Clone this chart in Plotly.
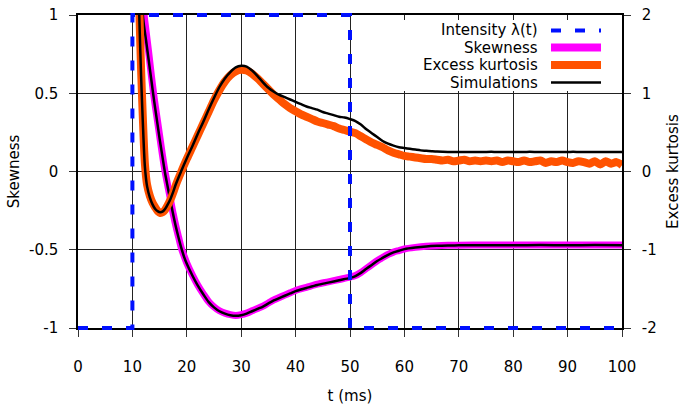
import plotly.graph_objects as go

# ---------------- data ----------------
t_lambda = [0, 10, 10, 50, 50, 100]
lam = [-1, -1, 1, 1, -1, -1]

t_skew = [11.5, 12, 12.5, 13, 13.5, 14, 14.5, 15, 15.5, 16, 16.5, 17, 17.5, 18, 18.5, 19, 19.5, 20,
          21, 22, 23, 24, 25, 26, 27, 28, 29, 30, 31, 32, 33, 34, 35, 36, 37, 38, 39, 40,
          42, 44, 46, 48, 50, 51, 52, 53, 54, 55, 56, 57, 58, 59, 60,
          62, 64, 66, 68, 70, 75, 80, 85, 90, 95, 100]
skew_theory = [1.35, 1.05, 0.90, 0.76, 0.61, 0.47, 0.35, 0.23, 0.11, 0.00, -0.09, -0.18, -0.27, -0.35, -0.42, -0.49, -0.54, -0.585,
               -0.66, -0.725, -0.78, -0.83, -0.865, -0.89, -0.905, -0.915, -0.92, -0.915, -0.905, -0.89, -0.875, -0.86, -0.84, -0.82, -0.805, -0.79, -0.775, -0.76,
               -0.74, -0.72, -0.705, -0.69, -0.675, -0.665, -0.645, -0.62, -0.595, -0.57, -0.55, -0.53, -0.515, -0.505, -0.495,
               -0.485, -0.478, -0.474, -0.472, -0.471, -0.47, -0.47, -0.47, -0.47, -0.47, -0.47]
skew_sim = [1.25, 0.97, 0.84, 0.71, 0.58, 0.45, 0.33, 0.21, 0.10, -0.01, -0.10, -0.19, -0.275, -0.355, -0.425, -0.49, -0.545, -0.59,
            -0.663, -0.728, -0.783, -0.833, -0.868, -0.893, -0.908, -0.918, -0.922, -0.918, -0.908, -0.893, -0.878, -0.863, -0.843, -0.824, -0.809, -0.794, -0.779, -0.764,
            -0.744, -0.725, -0.71, -0.695, -0.68, -0.668, -0.648, -0.622, -0.597, -0.572, -0.552, -0.532, -0.517, -0.506, -0.496,
            -0.486, -0.479, -0.475, -0.473, -0.472, -0.471, -0.471, -0.47, -0.471, -0.47, -0.471]

t_kurt = [11.0, 11.3, 11.6, 11.9, 12.3, 12.7, 13.2, 13.7, 14.2, 14.7, 15.1, 15.6, 16, 16.5, 17, 17.5,
          18, 19, 20, 21, 22, 23, 24, 25, 26, 27, 28, 29, 30, 31, 32, 33, 34, 35, 36, 37, 38, 39,
          40, 41, 42, 43, 44, 45, 46, 47, 48, 49, 50, 51, 52, 53, 54, 55, 56, 57, 58, 59,
          60, 61, 62, 63, 64, 65, 66, 67, 68, 69, 70, 71, 72, 73, 74, 75, 76, 77, 78, 79,
          80, 81, 82, 83, 84, 85, 86, 87, 88, 89, 90, 91, 92, 93, 94, 95, 96, 97, 98, 99, 100]
kurt_theory = [2.7, 2.0, 1.3, 0.72, 0.10, -0.17, -0.31, -0.40, -0.46, -0.51, -0.53, -0.52, -0.49, -0.43, -0.36, -0.27,
               -0.17, 0.00, 0.16, 0.31, 0.46, 0.61, 0.76, 0.91, 1.04, 1.15, 1.23, 1.28, 1.30, 1.29, 1.25, 1.19, 1.12, 1.05, 0.98, 0.92, 0.86, 0.81,
               0.77, 0.73, 0.70, 0.67, 0.64, 0.62, 0.60, 0.58, 0.55, 0.53, 0.51, 0.49, 0.45, 0.41, 0.37, 0.34, 0.31, 0.27, 0.24, 0.22,
               0.20, 0.19, 0.18, 0.17, 0.16, 0.16, 0.15, 0.14, 0.15, 0.13, 0.14, 0.15, 0.13, 0.14, 0.13, 0.14, 0.13, 0.14, 0.12, 0.14,
               0.13, 0.12, 0.14, 0.12, 0.13, 0.14, 0.11, 0.13, 0.12, 0.14, 0.12, 0.11, 0.13, 0.12, 0.10, 0.13, 0.09, 0.13, 0.10, 0.12, 0.08]
kurt_sim = [2.6, 1.9, 1.22, 0.66, 0.06, -0.19, -0.33, -0.42, -0.48, -0.51, -0.52, -0.51, -0.48, -0.42, -0.35, -0.26,
            -0.16, 0.01, 0.17, 0.32, 0.48, 0.63, 0.79, 0.94, 1.08, 1.19, 1.27, 1.33, 1.35, 1.34, 1.29, 1.22, 1.14, 1.07, 1.02, 0.98, 0.95, 0.92,
            0.89, 0.86, 0.83, 0.81, 0.79, 0.76, 0.74, 0.72, 0.70, 0.69, 0.67, 0.645, 0.60, 0.54, 0.49, 0.44, 0.39, 0.355, 0.33, 0.31,
            0.30, 0.29, 0.28, 0.27, 0.265, 0.26, 0.255, 0.252, 0.25, 0.25, 0.248, 0.25, 0.249, 0.25, 0.248, 0.25, 0.251, 0.249, 0.25, 0.248,
            0.25, 0.25, 0.249, 0.251, 0.25, 0.248, 0.25, 0.25, 0.249, 0.25, 0.25, 0.251, 0.25, 0.249, 0.25, 0.25, 0.249, 0.25, 0.25, 0.249, 0.25]

x_ticks = [0, 10, 20, 30, 40, 50, 60, 70, 80, 90, 100]
x_ticktext = ["0", "10", "20", "30", "40", "50", "60", "70", "80", "90", "100"]
y_ticks = [-1, -0.5, 0, 0.5, 1]
y_ticktext = ["-1", "-0.5", "0", "0.5", "1"]
y2_ticks = [-2, -1, 0, 1, 2]
y2_ticktext = ["-2", "-1", "0", "1", "2"]

legend_labels = ["Intensity λ(t)", "Skewness", "Excess kurtosis", "Simulations"]

# ---------------- styles / layout ----------------
W, H = 685, 405
ML, MR, MT, MB = 78, 63, 10, 72
PLOT_TOP, PLOT_BOT = 15, 328  # pixel rows of +1 / -1
area_h = H - MT - MB

FONT = "DejaVu Sans"
FS = 15
BLUE = "#0010ff"
MAGENTA = "#ff00ff"
ORANGE = "#ff5200"
DASH = "10px,14px"
SMOOTH = 0.8


def px_x(px):
    return (px - ML) / (W - ML - MR)


def px_y(py):
    return (H - MB - py) / area_h


ydom = [px_y(PLOT_BOT), px_y(PLOT_TOP)]
ppu = (PLOT_BOT - PLOT_TOP) / 2.0
pad_lo = (H - MB - PLOT_BOT) / ppu
pad_hi = (PLOT_TOP - MT) / ppu

fig = go.Figure()

fig.add_trace(go.Scatter(x=t_skew, y=skew_theory, mode="lines", name=legend_labels[1],
                         line=dict(color=MAGENTA, width=7, shape="spline", smoothing=SMOOTH),
                         xaxis="x", yaxis="y"))
fig.add_trace(go.Scatter(x=t_kurt, y=kurt_theory, mode="lines", name=legend_labels[2],
                         line=dict(color=ORANGE, width=8, shape="spline", smoothing=SMOOTH),
                         xaxis="x", yaxis="y2"))
fig.add_trace(go.Scatter(x=t_skew, y=skew_sim, mode="lines", name=legend_labels[3],
                         line=dict(color="black", width=2.5, shape="spline", smoothing=SMOOTH),
                         xaxis="x", yaxis="y"))
fig.add_trace(go.Scatter(x=t_kurt, y=kurt_sim, mode="lines", name=legend_labels[3],
                         line=dict(color="black", width=2.5, shape="spline", smoothing=SMOOTH),
                         xaxis="x", yaxis="y2"))
# intensity on an unclipped twin subplot (same pixel mapping)
fig.add_trace(go.Scatter(x=t_lambda, y=lam, mode="lines", name=legend_labels[0],
                         line=dict(color=BLUE, width=4, dash=DASH), xaxis="x2", yaxis="y3"))

axis_common = dict(showline=True, linecolor="black", linewidth=1.5, ticks="outside", ticklen=7,
                   tickcolor="#333", tickwidth=1, showgrid=True, gridcolor="#222", gridwidth=1,
                   zeroline=False, automargin=False,
                   tickfont=dict(family=FONT, size=FS, color="black"))

fig.update_layout(
    width=W, height=H,
    margin=dict(l=ML, r=MR, t=MT, b=MB, pad=0),
    paper_bgcolor="white", plot_bgcolor="rgba(0,0,0,0)",
    showlegend=False,
    font=dict(family=FONT, size=FS, color="black"),
    xaxis=dict(range=[0, 100], tickvals=x_ticks, ticktext=x_ticktext, mirror=True,
               ticklabelstandoff=17,
               title=dict(text="t (ms)", font=dict(family=FONT, size=FS), standoff=20),
               anchor="y", **axis_common),
    yaxis=dict(range=[-1, 1], domain=ydom, tickvals=y_ticks, ticktext=y_ticktext,
               ticklabelstandoff=8,
               title=dict(text="Skewness", font=dict(family=FONT, size=FS), standoff=6),
               **axis_common),
    yaxis2=dict(range=[-2, 2], overlaying="y", side="right", tickvals=y2_ticks, ticktext=y2_ticktext,
                ticklabelstandoff=8,
                title=dict(text="Excess kurtosis", font=dict(family=FONT, size=FS), standoff=12),
                **{**axis_common, "showgrid": False}),
    xaxis2=dict(range=[0, 100], domain=[0, 1], anchor="y3", visible=False),
    yaxis3=dict(range=[-1 - pad_lo, 1 + pad_hi], domain=[0, 1], anchor="x2", visible=False),
)

# ---------------- legend (gnuplot style: text right, sample right) ----------------
shapes = []
annotations = []
shapes.append(dict(type="rect", xref="paper", yref="paper", layer="above",
                   x0=px_x(392), x1=px_x(620), y0=px_y(91), y1=px_y(20),
                   fillcolor="white", line=dict(width=0)))
rows = [30.5, 47.5, 65, 82.5]
samples = [dict(color=BLUE, width=4, dash=DASH), dict(color=MAGENTA, width=8),
           dict(color=ORANGE, width=8), dict(color="black", width=2.5)]
for lbl, ry, ln in zip(legend_labels, rows, samples):
    annotations.append(dict(text=lbl, xref="paper", yref="paper", x=px_x(540), y=px_y(ry),
                            xanchor="right", yanchor="middle", showarrow=False,
                            font=dict(family=FONT, size=FS, color="black")))
    shapes.append(dict(type="line", xref="paper", yref="paper", layer="above",
                       x0=px_x(551), x1=px_x(601), y0=px_y(ry), y1=px_y(ry), line=ln))

fig.update_layout(shapes=shapes, annotations=annotations)

fig.write_html("out.html")
